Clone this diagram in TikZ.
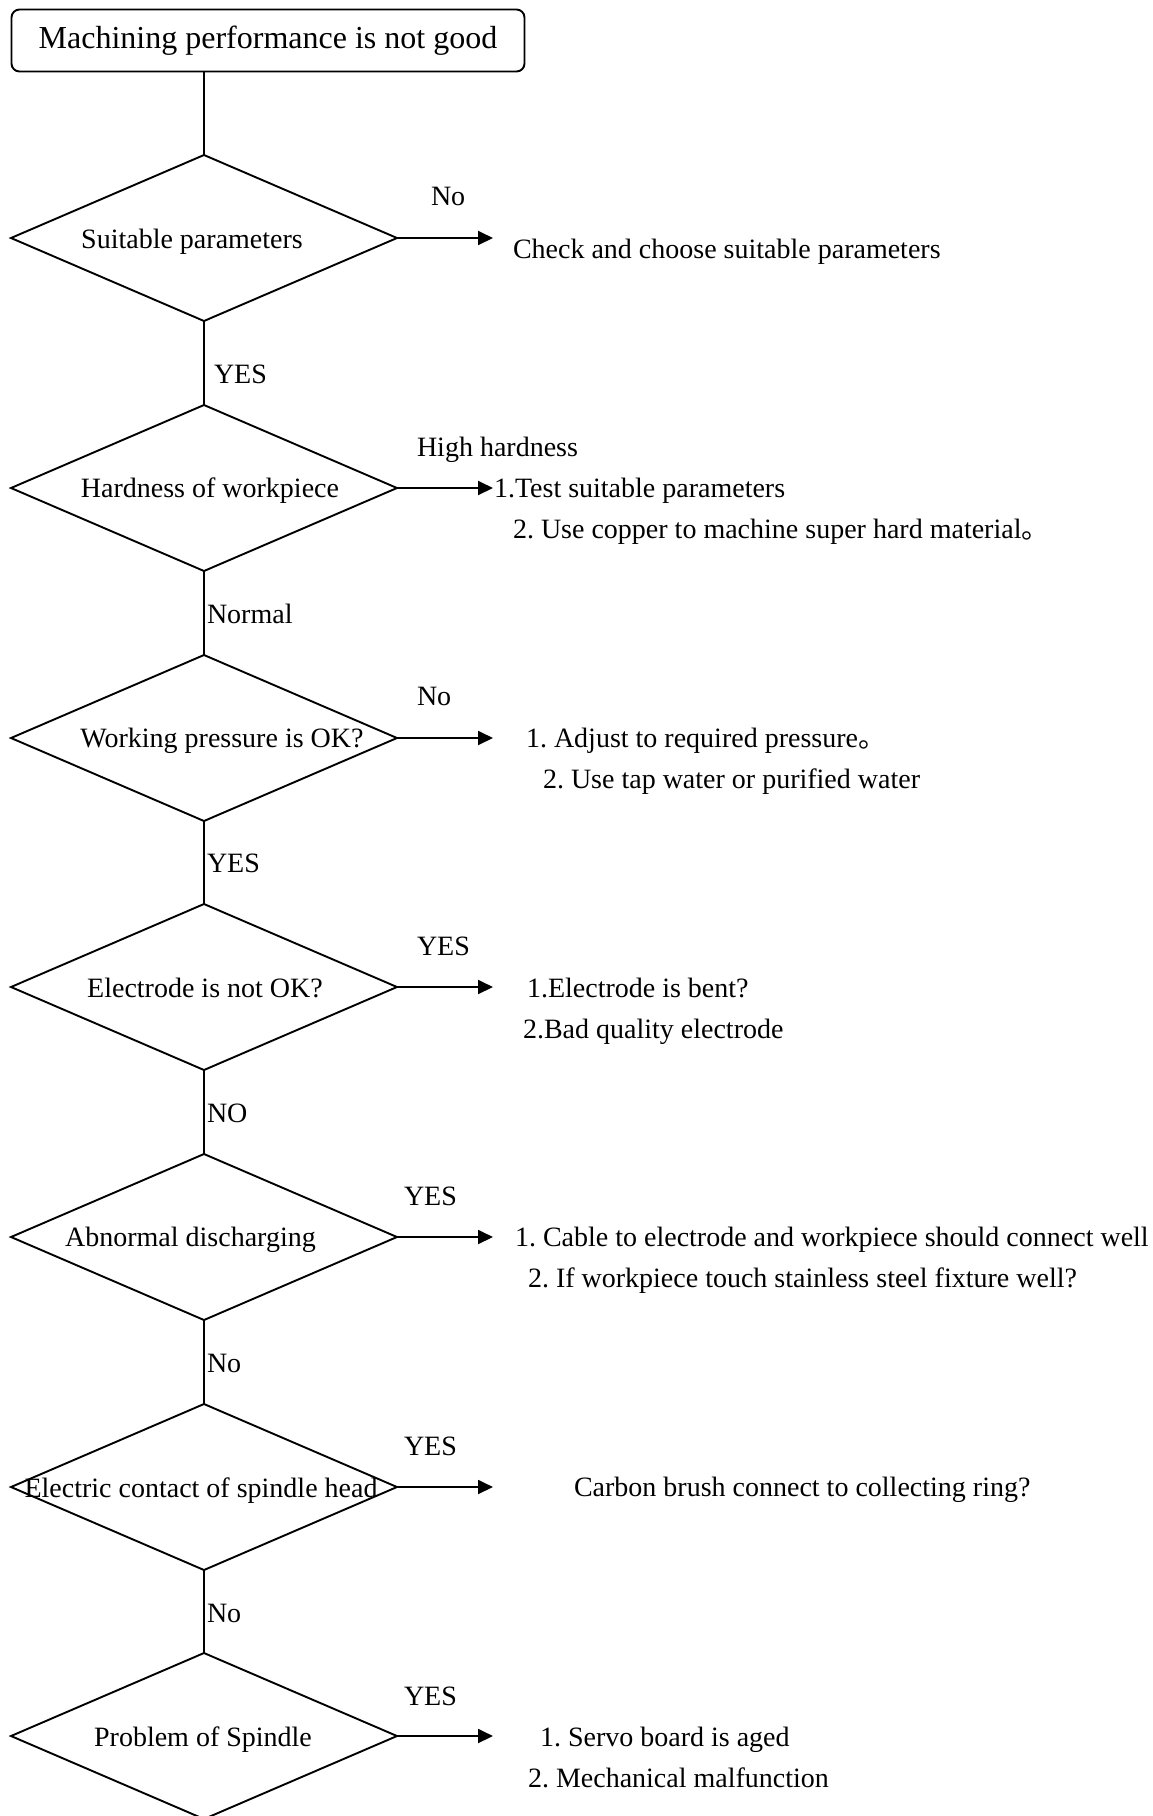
\documentclass[tikz,border=0pt]{standalone}
\usepackage{fontspec}
\setmainfont{Liberation Serif}
\newfontfamily\cjkfont{Noto Sans CJK SC}
\usetikzlibrary{shapes.geometric, arrows.meta}
\frenchspacing

\begin{document}
\begin{tikzpicture}[x=1pt,y=-1pt,
  every node/.style={inner sep=0pt, outer sep=0pt},
  decision/.style={draw, diamond, line width=1.9pt, minimum width=386pt, minimum height=166pt},
  startbox/.style={draw, rounded corners=8pt, line width=1.9pt, minimum width=513pt, minimum height=62pt, font=\fontsize{32}{38}\selectfont},
  txt/.style={font=\fontsize{28}{34}\selectfont, anchor=base west},
  ctxt/.style={font=\fontsize{28}{34}\selectfont, anchor=base},
  flow/.style={line width=1.9pt},
  go/.style={line width=1.9pt, -{Triangle[length=15pt,width=14pt]}},
]
\useasboundingbox (0,0) rectangle (1152,1816);

% start box
\node[startbox] (start) at (268,40.5) {Machining performance is not good};

% decisions
\node[decision] (d1) at (204,238) {};
\node[decision] (d2) at (204,488) {};
\node[decision] (d3) at (204,738) {};
\node[decision] (d4) at (204,987) {};
\node[decision] (d5) at (204,1237) {};
\node[decision] (d6) at (204,1487) {};
\node[decision] (d7) at (204,1736) {};

% decision texts
\node[ctxt] (q1) at (192,248) {Suitable parameters};
\node[ctxt] (q2) at (210,497) {Hardness of workpiece};
\node[ctxt] (q3) at (222,747) {Working pressure is OK?};
\node[ctxt] (q4) at (205,997) {Electrode is not OK?};
\node[ctxt] (q5) at (190.5,1246) {Abnormal discharging};
\node[ctxt] (q6) at (201,1497) {Electric contact of spindle head};
\node[ctxt] (q7) at (203,1746) {Problem of Spindle};

% main flow
\draw[flow] (d1.north |- start.south) -- (d1.north);
\draw[flow] (d1.south) -- (d2.north);
\draw[flow] (d2.south) -- (d3.north);
\draw[flow] (d3.south) -- (d4.north);
\draw[flow] (d4.south) -- (d5.north);
\draw[flow] (d5.south) -- (d6.north);
\draw[flow] (d6.south) -- (d7.north);

% labels on the main flow
\node[txt] (y12) at (214,383) {YES};
\node[txt] (y23) at (207,623) {Normal};
\node[txt] (y34) at (207,872) {YES};
\node[txt] (y45) at (207,1122) {NO};
\node[txt] (y56) at (207,1372) {No};
\node[txt] (y67) at (207,1622) {No};

% side branches
\coordinate (e1) at (493,238);
\coordinate (e2) at (493,488);
\coordinate (e3) at (493,738);
\coordinate (e4) at (493,987);
\coordinate (e5) at (493,1237);
\coordinate (e6) at (493,1487);
\coordinate (e7) at (493,1736);
\draw[go] (d1.east) -- (e1);
\draw[go] (d2.east) -- (e2);
\draw[go] (d3.east) -- (e3);
\draw[go] (d4.east) -- (e4);
\draw[go] (d5.east) -- (e5);
\draw[go] (d6.east) -- (e6);
\draw[go] (d7.east) -- (e7);

% branch labels
\node[txt] (b1) at (431,205) {No};
\node[txt] (b2) at (417,456) {High hardness};
\node[txt] (b3) at (417,705) {No};
\node[txt] (b4) at (417,955) {YES};
\node[txt] (b5) at (404,1205) {YES};
\node[txt] (b6) at (404,1455) {YES};
\node[txt] (b7) at (404,1705) {YES};

% remedies
\node[txt] (r1) at (513,258) {Check and choose suitable parameters};
\node[txt] (r2a) at (494,497) {1.Test suitable parameters};
\node[txt] (r2b) at (513,538) {2. Use copper to machine super hard material{\cjkfont 。}};
\node[txt] (r3a) at (526,747) {1. Adjust to required pressure{\cjkfont 。}};
\node[txt] (r3b) at (543,788) {2. Use tap water or purified water};
\node[txt] (r4a) at (527,997) {1.Electrode is bent?};
\node[txt] (r4b) at (523,1038) {2.Bad quality electrode};
\node[txt] (r5a) at (515,1246) {1. Cable to electrode and workpiece should connect well};
\node[txt] (r5b) at (528,1287) {2. If workpiece touch stainless steel fixture well?};
\node[txt] (r6) at (574,1496) {Carbon brush connect to collecting ring?};
\node[txt] (r7a) at (540,1746) {1. Servo board is aged};
\node[txt] (r7b) at (528,1787) {2. Mechanical malfunction};
\end{tikzpicture}
\end{document}
